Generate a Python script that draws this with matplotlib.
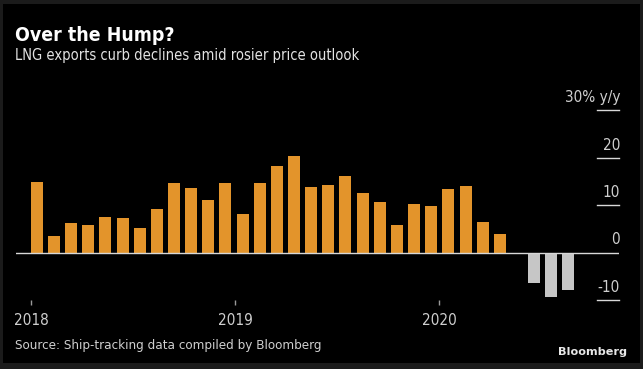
import numpy as np
import matplotlib
matplotlib.use("Agg")
import matplotlib.pyplot as plt
from matplotlib import font_manager
from matplotlib.patches import Rectangle

# monthly y/y change, Jan 2018 - Aug 2020 (May 2020 missing)
vals_2018 = [14.8, 3.4, 6.3, 5.7, 7.4, 7.2, 5.1, 9.1, 14.6, 13.5, 11.1, 14.6]
vals_2019 = [8.2, 14.6, 18.2, 20.3, 13.8, 14.2, 16.1, 12.5, 10.7, 5.7, 10.2, 9.8]
vals_2020 = [13.3, 14.0, 6.5, 4.0, np.nan, -6.5, -9.3, -7.9]
year_labels = ["2018", "2019", "2020"]
y_ticks = [30, 20, 10, 0, -10]
y_labels = ["30% y/y", "20", "10", "0", "-10"]

title = "Over the Hump?"
subtitle = "LNG exports curb declines amid rosier price outlook"
source = "Source: Ship-tracking data compiled by Bloomberg"

ORANGE = "#e3942b"
GREY = "#c6c6c6"
TXT = "#cfcfcf"

# narrow font if one is there
fl = font_manager.fontManager.ttflist
names = {f.name for f in fl}
cond = [f for f in fl if f.name == "DejaVu Sans" and f.stretch == "condensed"]
if "Liberation Sans Narrow" in names:
    plt.rcParams["font.family"] = "Liberation Sans Narrow"
else:
    plt.rcParams["font.family"] = "DejaVu Sans"
    if cond:
        plt.rcParams["font.stretch"] = "condensed"

W, H = 643, 369
fig = plt.figure(figsize=(W / 100, H / 100), dpi=100, facecolor="#1b1b1b")
fig.patches.append(Rectangle((3 / W, 6 / H), 637 / W, 359 / H, transform=fig.transFigure,
                             facecolor="black", edgecolor="none", zorder=-5))

ax = fig.add_axes([16 / W, 69 / H, 603 / W, 190 / H], zorder=2)
ax.set_facecolor("none")

values = np.array(vals_2018 + vals_2019 + vals_2020)
x = np.arange(len(values))
colors = [ORANGE if v >= 0 else GREY for v in np.nan_to_num(values)]
ax.bar(x, np.nan_to_num(values), width=0.7, color=colors, zorder=2)

ax.set_xlim(-1.21, 33.95)
ax.set_ylim(-10, 30)
for s in ax.spines.values():
    s.set_visible(False)
ax.set_yticks([])

# zero line across, short marks for the other levels on the right
ax.axhline(0, color="#d8d8d8", lw=1, zorder=3)
for v, lab in zip(y_ticks, y_labels):
    if v != 0:
        ax.plot([0.9635, 1.0], [v, v], transform=ax.get_yaxis_transform(),
                color="#d8d8d8", lw=1, clip_on=False)
    ax.annotate(lab, xy=(1.0, v), xycoords=("axes fraction", "data"),
                xytext=(1, 8), textcoords="offset pixels", ha="right",
                va="baseline", color=TXT, fontsize=11)

# year ticks
tick_pos = [-0.33, 11.57, 23.47]
ax.set_xticks(tick_pos)
ax.set_xticklabels([])
ax.tick_params(axis="x", direction="out", length=3.5, width=1, color="#9a9a9a")
for p, lab in zip(tick_pos, year_labels):
    ax.annotate(lab, xy=(p, 0), xycoords=("data", "axes fraction"),
                xytext=(0, -25), textcoords="offset pixels", ha="center",
                va="baseline", color=TXT, fontsize=11)

fig.canvas.draw()
r = fig.canvas.get_renderer()


def fit(t, target):
    # scale font so the text spans the measured width
    w = t.get_window_extent(r).width
    t.set_fontsize(t.get_fontsize() * target / w)


t1 = fig.text(15 / W, 1 - 41 / H, title, color="white", fontweight="bold",
              fontsize=13, va="baseline")
t2 = fig.text(15 / W, 1 - 60 / H, subtitle, color="#e2e2e2", fontsize=12,
              va="baseline")
t3 = fig.text(15 / W, 1 - 349 / H, source, color=TXT, fontsize=10,
              va="baseline")
t4 = fig.text(627 / W, 1 - 355 / H, "Bloomberg", color="#e8e8e8",
              fontweight="bold", fontsize=10, va="baseline", ha="right",
              fontstretch="normal")
fit(t1, 158)
fit(t2, 341)
fit(t3, 308)
fit(t4, 69)

fig.savefig("out.png", dpi=100, facecolor=fig.get_facecolor())
